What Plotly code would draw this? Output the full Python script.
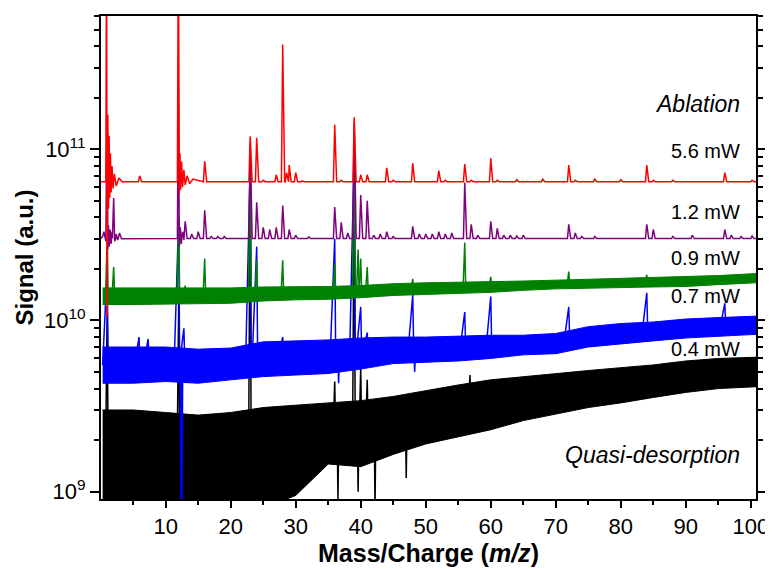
import numpy as np
import plotly.graph_objects as go

# ---------------- data ----------------
# control grid (m/z) for the noise bands of the low-power spectra
grid_mz = [0.3, 5, 10, 15, 20, 25, 30, 35, 40, 45, 50, 55, 60, 65, 70, 75, 80, 85, 90, 95, 100.8]

# 0.4 mW (black) noise band
black_upper = [3.0e9, 3.0e9, 2.9e9, 2.8e9, 2.9e9, 3.1e9, 3.2e9, 3.3e9, 3.4e9, 3.6e9, 3.9e9,
               4.2e9, 4.5e9, 4.7e9, 4.9e9, 5.1e9, 5.3e9, 5.5e9, 5.8e9, 6.0e9, 6.1e9]
black_lower = [8e8, 8e8, 8e8, 8e8, 8e8, 8e8, 9.5e8, 1.45e9, 1.4e9, 1.65e9, 1.9e9,
               2.1e9, 2.3e9, 2.6e9, 2.85e9, 3.1e9, 3.3e9, 3.55e9, 3.8e9, 4.0e9, 4.1e9]
black_peak_mz = [1.0, 12.0, 23.0, 36.0, 39.0, 40.0, 41.0, 56.8]
black_peak_val = [1.2e10, 1.3e10, 9e10, 4.4e9, 8e10, 5.3e9, 4.5e9, 4.8e9]
black_dip_mz = [36.5, 39.6, 42.2, 47.0]
black_dip_val = [9e8, 1.0e9, 8e8, 1.2e9]

# 0.7 mW (blue) noise band
blue_upper = [7.0e9, 7.0e9, 7.0e9, 6.8e9, 6.9e9, 7.5e9, 7.6e9, 7.7e9, 7.9e9, 8.0e9, 8.0e9,
              8.1e9, 8.2e9, 8.2e9, 8.4e9, 9.2e9, 9.6e9, 9.8e9, 10.2e9, 10.4e9, 10.6e9]
blue_lower = [4.3e9, 4.3e9, 4.4e9, 4.3e9, 4.5e9, 4.7e9, 4.8e9, 4.9e9, 5.2e9, 5.6e9, 5.7e9,
              5.8e9, 6.0e9, 6.3e9, 6.4e9, 7.0e9, 7.3e9, 7.6e9, 7.9e9, 8.1e9, 8.3e9]
blue_peak_mz = [1.0, 5.9, 7.3, 12.0, 12.8, 23.0, 24.0, 28.0, 36.0, 39.0, 40.0, 41.0, 48.0, 56.0, 60.0, 72.0, 84.0, 96.0]
blue_peak_val = [2e10, 8.0e9, 7.8e9, 4e10, 9e9, 8e10, 2.7e10, 8.0e9, 3.0e10, 1.0e11, 1.2e10, 8.5e9,
                 1.41e10, 1.12e10, 1.38e10, 1.2e10, 1.45e10, 1.26e10]
blue_dip_mz = [12.35, 12.5, 36.6, 48.3]
blue_dip_val = [8e8, 8e8, 4.3e9, 5.0e9]

# 0.9 mW (green) noise band
green_upper = [1.55e10, 1.55e10, 1.55e10, 1.55e10, 1.55e10, 1.57e10, 1.57e10, 1.58e10, 1.6e10, 1.64e10, 1.66e10,
               1.67e10, 1.68e10, 1.70e10, 1.72e10, 1.74e10, 1.76e10, 1.78e10, 1.80e10, 1.83e10, 1.88e10]
green_lower = [1.24e10, 1.24e10, 1.25e10, 1.25e10, 1.26e10, 1.30e10, 1.32e10, 1.33e10, 1.36e10, 1.40e10, 1.42e10,
               1.44e10, 1.46e10, 1.50e10, 1.53e10, 1.55e10, 1.56e10, 1.57e10, 1.58e10, 1.62e10, 1.66e10]
green_peak_mz = [1.0, 2.0, 12.0, 13.0, 16.0, 23.0, 24.0, 28.0, 36.0, 39.0, 39.6, 40.0, 41.0, 48.0, 56.0, 60.0, 72.0, 84.0]
green_peak_val = [3e10, 2.05e10, 4e10, 1.6e10, 2.3e10, 1.0e11, 2.25e10, 2.25e10, 2.15e10, 1.2e11, 2.6e10, 2.3e10,
                  2.05e10, 1.75e10, 2.85e10, 1.8e10, 1.93e10, 1.85e10]

# 1.2 mW (purple) spectrum
purple_base = 3.01e10
purple_peak_mz = [2.0, 2.9, 13.0, 14.0, 15.0, 16.0, 17.0, 18.0, 19.0, 23.0, 24.0, 25.0, 26.0, 27.0, 28.0,
                  29.0, 30.0, 32.0, 36.0, 37.0, 38.0, 39.0, 40.0, 41.0, 42.0, 43.0, 44.0, 45.0, 48.0, 49.0,
                  50.0, 51.0, 52.0, 53.0, 54.0, 56.0, 57.0, 58.0, 60.0, 61.0, 62.0, 63.0, 64.0, 65.0, 72.0,
                  73.0, 74.0, 76.0, 84.0, 85.0, 88.0, 91.0, 96.0, 97.0, 98.5, 100.2]
purple_peak_val = [5.2e10, 3.25e10, 3.8e10, 3.2e10, 3.3e10, 4.4e10, 3.1e10, 3.1e10, 3.1e10, 1.1e11, 4.9e10,
                   3.5e10, 3.4e10, 3.5e10, 4.7e10, 3.4e10, 3.15e10, 3.08e10, 4.6e10, 3.75e10, 3.25e10, 1.45e11,
                   5.4e10, 5.0e10, 3.15e10, 3.2e10, 3.3e10, 3.1e10, 3.55e10, 3.2e10, 3.2e10, 3.2e10, 3.3e10,
                   3.2e10, 3.25e10, 6.4e10, 3.65e10, 3.15e10, 3.8e10, 3.45e10, 3.15e10, 3.15e10, 3.12e10,
                   3.15e10, 3.65e10, 3.25e10, 3.1e10, 3.1e10, 3.65e10, 3.4e10, 3.1e10, 3.15e10, 3.4e10,
                   3.15e10, 3.1e10, 3.12e10]
purple_ring_mz = [0.3, 0.5, 0.8, 0.95, 1.1, 1.2, 1.3, 1.45, 1.6, 1.75, 2.15, 2.4, 2.6, 3.2,
                  11.8, 11.95, 12.1, 12.25, 12.4, 12.6, 12.8]
purple_ring_val = [3.1e10, 3.3e10, 2.9e10, 1.5e11, 2.6e10, 3.6e10, 2.7e10, 3.4e10, 2.8e10, 3.3e10, 2.9e10,
                   3.2e10, 2.95e10, 3.0e10, 3.01e10, 2.3e11, 2.7e10, 3.5e10, 2.8e10, 3.3e10, 2.95e10]

# 5.6 mW (red) spectrum
red_base = 6.47e10
red_peak_mz = [6.0, 16.0, 23.0, 24.0, 25.0, 27.0, 28.0, 28.6, 29.0, 30.0, 31.0, 36.0, 37.0, 39.0, 40.0,
               41.0, 44.0, 45.0, 48.0, 52.0, 53.0, 56.0, 57.0, 60.0, 61.0, 64.0, 68.0, 72.0, 73.0, 76.0,
               80.0, 84.0, 85.0, 88.0, 96.0, 100.2]
red_peak_val = [7.0e10, 8.5e10, 1.19e11, 1.17e11, 6.6e10, 7.1e10, 4.1e11, 7.3e10, 8.1e10, 7.3e10, 6.55e10,
                1.39e11, 6.6e10, 1.54e11, 7.1e10, 7.1e10, 7.8e10, 6.6e10, 8.3e10, 7.5e10, 6.6e10, 8.2e10,
                6.6e10, 8.85e10, 6.6e10, 6.65e10, 6.7e10, 8.1e10, 6.6e10, 6.7e10, 6.65e10, 8.1e10, 6.6e10,
                6.6e10, 7.3e10, 6.6e10]
red_ring_mz = [0.8, 0.9, 1.0, 1.1, 1.2, 1.3, 1.4, 1.5, 1.6, 1.75, 1.9, 2.1, 2.4, 2.8, 3.3,
               11.8, 11.95, 12.1, 12.2, 12.3, 12.45, 12.6, 12.8, 13.0, 13.3, 13.7, 14.2]
red_ring_val = [6.47e10, 2e12, 1.05e10, 1.6e11, 4.5e10, 1.2e11, 5.2e10, 9.5e10, 5.6e10, 8.0e10, 5.9e10,
                7.2e10, 6.1e10, 6.8e10, 6.47e10,
                6.47e10, 2e12, 5.5e10, 9.5e10, 5.8e10, 8.5e10, 6.0e10, 7.6e10, 6.2e10, 7.0e10, 6.3e10, 6.7e10]

x_ticks = [10, 20, 30, 40, 50, 60, 70, 80, 90, 100]
y_ticks = [1e9, 1e10, 1e11]
y_tick_text = ["10<sup>9</sup>", "10<sup>10</sup>", "10<sup>11</sup>"]

labels = ["Ablation", "5.6 mW", "1.2 mW", "0.9 mW", "0.7 mW", "0.4 mW", "Quasi-desorption"]
label_y = [1.84e11, 9.8e10, 4.33e10, 2.33e10, 1.39e10, 6.8e9, 1.64e9]
label_italic = [True, False, False, False, False, False, True]

X_MIN, X_MAX = 0.05, 100.8


# ---------------- helpers ----------------
def clean_line(base, pk_mz, pk_val, ring_mz, ring_val, wl=0.2, wr=0.3):
    pts = [(X_MIN, base), (X_MAX, base)]
    for m, v in zip(pk_mz, pk_val):
        pts += [(m - wl, base), (m, v), (m + wr, base)]
    pts += list(zip(ring_mz, ring_val))
    pts.sort(key=lambda p: p[0])
    return [p[0] for p in pts], [p[1] for p in pts]


def band(upper, lower):
    return list(grid_mz) + list(grid_mz[::-1]), list(upper) + list(lower[::-1])


def spikes(upper, lower, mz_list, val_list, wl=0.25, wr=0.15):
    mid = (np.log10(upper) + np.log10(lower)) / 2
    xs, ys = [], []
    for m, v in zip(mz_list, val_list):
        foot = 10 ** np.interp(m, grid_mz, mid)
        xs += [m - wl, m, m + wr, None]
        ys += [foot, v, foot, None]
    return xs, ys


fig = go.Figure()

noisy = [
    ("black", black_upper, black_lower, black_peak_mz, black_peak_val, black_dip_mz, black_dip_val, 0.25),
    ("#0000FF", blue_upper, blue_lower, blue_peak_mz, blue_peak_val, blue_dip_mz, blue_dip_val, 0.7),
    ("#008000", green_upper, green_lower, green_peak_mz, green_peak_val, [], [], 0.25),
]
for col, up, lo, pmz, pval, dmz, dval, wl in noisy:
    bx, by = band(up, lo)
    fig.add_trace(go.Scatter(x=bx, y=by, mode="lines", fill="toself", fillcolor=col,
                             line=dict(color=col, width=1), hoverinfo="skip", showlegend=False))
    sx, sy = spikes(up, lo, pmz, pval, wl=wl)
    fig.add_trace(go.Scatter(x=sx, y=sy, mode="lines", line=dict(color=col, width=1.5),
                             hoverinfo="skip", showlegend=False))
    if dmz:
        dx, dy = spikes(up, lo, dmz, dval, wl=0.12, wr=0.12)
        fig.add_trace(go.Scatter(x=dx, y=dy, mode="lines", line=dict(color=col, width=1.5),
                                 hoverinfo="skip", showlegend=False))

px_, py_ = clean_line(purple_base, purple_peak_mz, purple_peak_val, purple_ring_mz, purple_ring_val)
fig.add_trace(go.Scatter(x=px_, y=py_, mode="lines", line=dict(color="#800080", width=1.5), showlegend=False))
rx_, ry_ = clean_line(red_base, red_peak_mz, red_peak_val, red_ring_mz, red_ring_val)
fig.add_trace(go.Scatter(x=rx_, y=ry_, mode="lines", line=dict(color="#FF0000", width=1.5), showlegend=False))

for txt, yv, it in zip(labels, label_y, label_italic):
    fig.add_annotation(x=98.7, y=np.log10(yv), xref="x", yref="y", text=f"<i>{txt}</i>" if it else txt,
                       showarrow=False, xanchor="right", yanchor="middle",
                       font=dict(family="Liberation Sans, Arial", size=23 if it else 20, color="black"))

minor_y = [k * 10 ** e for e in (8, 9, 10, 11) for k in range(2, 10)]
# the page body has an 8 px margin, so the figure is drawn 8 px in from the window's top-left corner
fig.update_layout(
    width=765, height=562,
    margin=dict(l=93, r=17, t=8, b=71),
    paper_bgcolor="white", plot_bgcolor="white",
    font=dict(family="Liberation Sans, Arial", size=22, color="black"),
    xaxis=dict(range=[X_MIN, X_MAX], tickmode="array", tickvals=x_ticks, ticks="outside", ticklen=7,
               tickwidth=2, tickcolor="black", showline=True, linewidth=2, linecolor="black", mirror=True,
               showgrid=False, zeroline=False, automargin=False,
               minor=dict(tickmode="array", tickvals=[5 + 10 * i for i in range(10)], ticks="outside",
                          ticklen=4, tickwidth=2, tickcolor="black", showgrid=False),
               title=dict(text="<b>Mass/Charge (<i>m/z</i>)</b>", font=dict(size=25), standoff=3)),
    yaxis=dict(type="log", range=[8.957, 11.779], tickmode="array", tickvals=y_ticks, ticktext=y_tick_text,
               ticks="outside", ticklen=9, tickwidth=2, tickcolor="black", showline=True, linewidth=2,
               linecolor="black", mirror="ticks", showgrid=False, zeroline=False, automargin=False,
               minor=dict(tickmode="array", tickvals=minor_y, ticks="outside", ticklen=5, tickwidth=2,
                          tickcolor="black", showgrid=False),
               title=dict(text="<b>Signal (a.u.)</b>", font=dict(size=24), standoff=4)),
)

fig.write_html("out.html")
